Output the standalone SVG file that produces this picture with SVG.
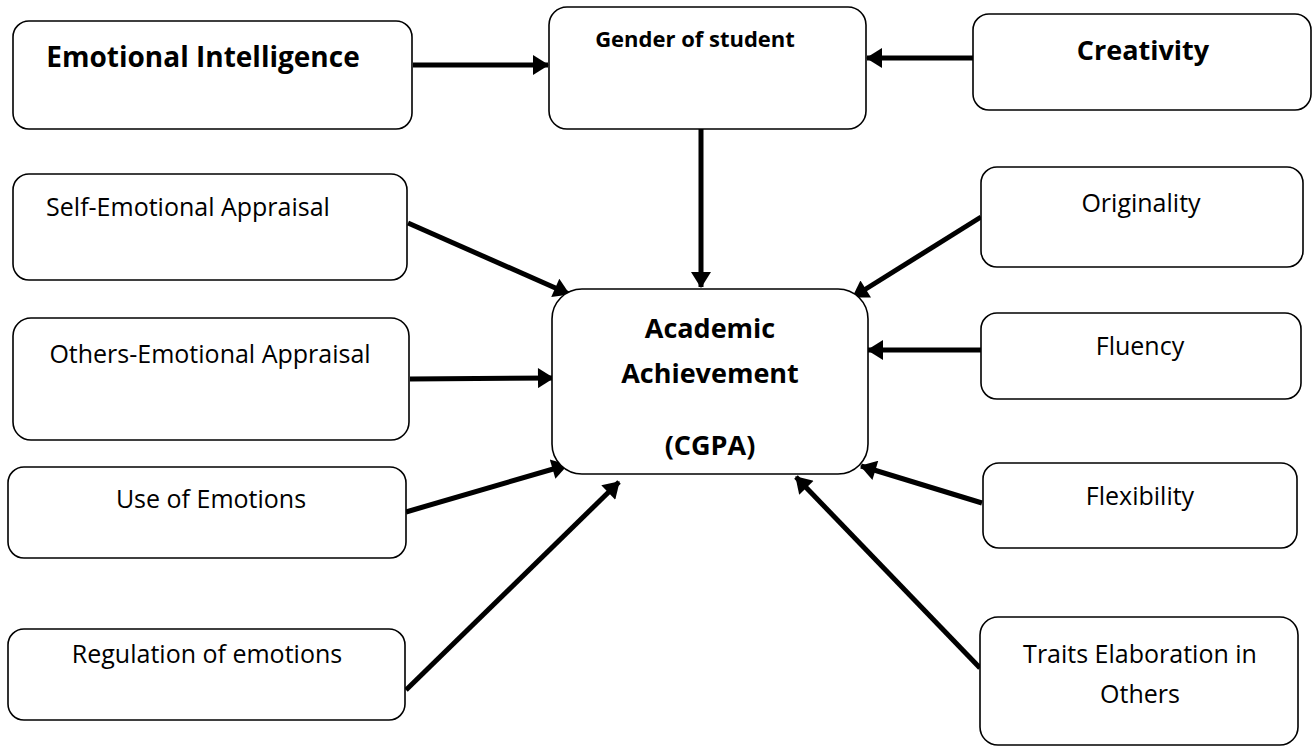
<svg xmlns="http://www.w3.org/2000/svg" width="1315" height="747" viewBox="0 0 1315 747">
<style>
.box{fill:#fff;stroke:#000;stroke-width:1.6}
.t{font-family:"Open Sans","Liberation Sans",sans-serif;font-size:25px;fill:#000;text-anchor:middle}
.b{font-weight:bold;font-size:27px}
.g{font-size:22px}
.ei{font-size:28px}
.c{stroke:#000;stroke-width:5;fill:none;marker-end:url(#ah)}
</style>
<defs>
<marker id="ah" markerUnits="userSpaceOnUse" markerWidth="20" markerHeight="20" viewBox="0 0 16 20" refX="15" refY="10" orient="auto">
<path d="M0,0 L16,10 L0,20 Z" fill="#000"/>
</marker>
</defs>
<rect width="1315" height="747" fill="#fff"/>
<g id="connectors">
<line class="c" x1="413" y1="65" x2="548" y2="65"/>
<line class="c" x1="973" y1="58" x2="867" y2="58"/>
<line class="c" x1="701" y1="129" x2="701" y2="287"/>
<line class="c" x1="408" y1="223" x2="569" y2="294"/>
<line class="c" x1="410" y1="379" x2="553" y2="378"/>
<line class="c" x1="406" y1="512" x2="567" y2="465"/>
<line class="c" x1="406" y1="690" x2="619" y2="482"/>
<line class="c" x1="981" y1="217" x2="853" y2="297"/>
<line class="c" x1="981" y1="350" x2="868" y2="350"/>
<line class="c" x1="982" y1="503" x2="861" y2="466"/>
<line class="c" x1="980" y1="668" x2="796" y2="477"/>
</g>
<g id="emotional-intelligence">
<rect class="box" x="13" y="21" width="399" height="108" rx="16"/>
<text class="t b ei" x="203" y="67">Emotional Intelligence</text>
</g>
<g id="gender">
<rect class="box" x="549" y="7" width="317" height="122" rx="18"/>
<text class="t b g" x="695" y="47">Gender of student</text>
</g>
<g id="creativity">
<rect class="box" x="973" y="14" width="338" height="96" rx="16"/>
<text class="t b" x="1143" y="60">Creativity</text>
</g>
<g id="self-emotional">
<rect class="box" x="13" y="174" width="394" height="106" rx="16"/>
<text class="t" x="188" y="216">Self-Emotional Appraisal</text>
</g>
<g id="others-emotional">
<rect class="box" x="13" y="318" width="396" height="122" rx="18"/>
<text class="t" x="210" y="363">Others-Emotional Appraisal</text>
</g>
<g id="use-emotions">
<rect class="box" x="8" y="467" width="398" height="91" rx="16"/>
<text class="t" x="211" y="508">Use of Emotions</text>
</g>
<g id="regulation">
<rect class="box" x="8" y="629" width="397" height="91" rx="16"/>
<text class="t" x="207" y="663">Regulation of emotions</text>
</g>
<g id="academic">
<rect class="box" x="552" y="289" width="316" height="185" rx="30"/>
<text class="t b" x="710" y="338">Academic</text>
<text class="t b" x="710" y="383">Achievement</text>
<text class="t b" x="710" y="455">(CGPA)</text>
</g>
<g id="originality">
<rect class="box" x="981" y="167" width="322" height="100" rx="16"/>
<text class="t" x="1141" y="212">Originality</text>
</g>
<g id="fluency">
<rect class="box" x="981" y="313" width="320" height="86" rx="16"/>
<text class="t" x="1140" y="355">Fluency</text>
</g>
<g id="flexibility">
<rect class="box" x="983" y="463" width="314" height="85" rx="16"/>
<text class="t" x="1140" y="505">Flexibility</text>
</g>
<g id="traits">
<rect class="box" x="980" y="617" width="318" height="128" rx="18"/>
<text class="t" x="1140" y="663">Traits Elaboration in</text>
<text class="t" x="1140" y="703">Others</text>
</g>
</svg>
